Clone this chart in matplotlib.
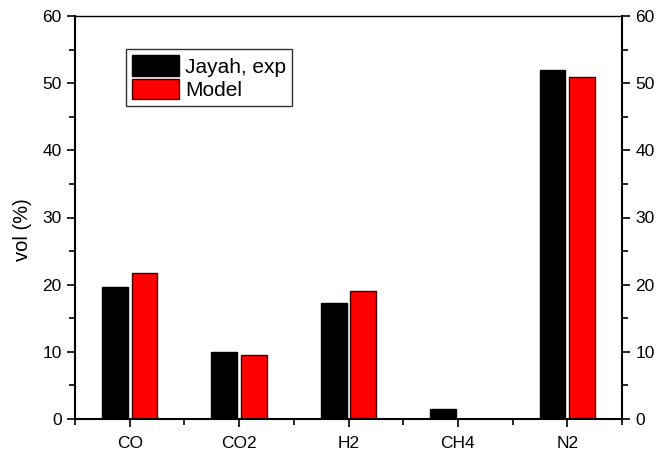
import numpy as np
import matplotlib
matplotlib.use('Agg')
import matplotlib.pyplot as plt
from matplotlib.ticker import MultipleLocator, FixedLocator

plt.rcParams['font.family'] = ['Liberation Sans', 'DejaVu Sans']

# ── 데이터 ──
gases = ['CO', 'CO2', 'H2', 'CH4', 'N2']
jayah_exp = [19.7, 10.0, 17.3, 1.5, 51.9]
model = [21.7, 9.6, 19.0, 0.0, 50.9]

x = np.arange(len(gases))
w = 0.235
off = 0.135

fig = plt.figure(figsize=(6.56, 4.53), dpi=100)
ax = fig.add_axes([75/656, 1 - 419/453, 547/656, 403/453])

ax.bar(x - off, jayah_exp, w, color='black', edgecolor='black', linewidth=1, label='Jayah, exp')
ax.bar(x + off, model, w, color='#ff0000', edgecolor='#400000', linewidth=1, label='Model')

ax.set_xlim(-0.5, 4.5)
ax.set_ylim(0, 60)
ax.set_xticks(x)
ax.set_xticklabels(gases)
ax.xaxis.set_minor_locator(FixedLocator(np.arange(-0.5, 4.6, 1.0)))
ax.yaxis.set_major_locator(MultipleLocator(10))
ax.yaxis.set_minor_locator(MultipleLocator(5))

ax.tick_params(which='both', direction='out', width=1.2, labelsize=12.5)
ax.tick_params(which='major', length=6)
ax.tick_params(which='minor', length=4)
ax.tick_params(axis='y', which='both', left=True, right=True, labelright=True, pad=3.5)
ax.tick_params(axis='x', which='both', top=False, pad=6)

for s in ['left', 'right', 'bottom']:
    ax.spines[s].set_linewidth(1.5)
ax.spines['top'].set_linewidth(1.0)

ax.set_ylabel('vol (%)', fontsize=14.5)
ax.yaxis.set_label_coords(-0.079, 0.47)

leg = ax.legend(loc='upper left', bbox_to_anchor=(0.093, 0.918), fontsize=15,
                frameon=True, fancybox=False, edgecolor='black', borderpad=0.3,
                handlelength=2.25, handleheight=1.15, handletextpad=0.3,
                labelspacing=0.1, borderaxespad=0)
leg.get_frame().set_linewidth(1.0)

fig.savefig('out.png', dpi=100)
